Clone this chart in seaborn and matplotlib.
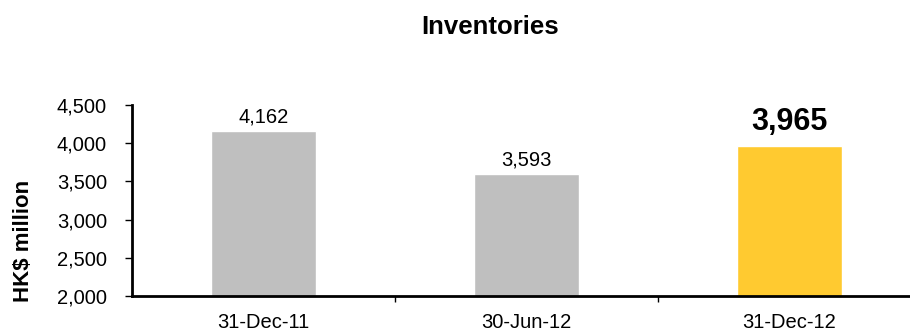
import matplotlib
matplotlib.use("Agg")
import matplotlib.pyplot as plt
import seaborn as sns
from matplotlib.ticker import FuncFormatter, FixedLocator

# data
dates = ["31-Dec-11", "30-Jun-12", "31-Dec-12"]
inventories = [4162, 3593, 3965]
bar_colors = ["#BFBFBF", "#BFBFBF", "#FFCA30"]

sns.set_theme(style="white")
plt.rcParams['font.family'] = ['Liberation Sans', 'DejaVu Sans']
plt.rcParams['text.color'] = 'black'
plt.rcParams['xtick.color'] = 'black'
plt.rcParams['ytick.color'] = 'black'
plt.rcParams['axes.labelcolor'] = 'black'

fig = plt.figure(figsize=(9.10, 3.31), dpi=100)
ax = fig.add_axes([0.145, 0.106, 0.867, 0.577])

sns.barplot(x=dates, y=inventories, hue=dates, palette=bar_colors,
            width=0.4, legend=False, saturation=1, ax=ax)

ax.set_xlim(-0.5, 2.5)
ax.set_ylim(2000, 4500)
ax.set_yticks(range(2000, 4501, 500))
ax.yaxis.set_major_formatter(FuncFormatter(lambda v, p: f"{int(v):,}"))

# value labels, last period highlighted
for i, v in enumerate(inventories):
    last = i == len(inventories) - 1
    ax.text(i, v + (60 if not last else 120), f"{v:,}", ha="center", va="bottom",
            fontsize=22 if last else 14.5, fontweight="bold" if last else "normal")

fig.text(0.538, 0.918, "Inventories", fontsize=18.5, fontweight="bold",
         ha="center", va="center")

ax.set_ylabel("HK$ million", fontsize=16, fontweight="bold")
ax.yaxis.set_label_coords(-0.124, 0.288)
ax.set_xlabel("")

for side in ["top", "right"]:
    ax.spines[side].set_visible(False)
for side in ["left", "bottom"]:
    ax.spines[side].set_color("black")
    ax.spines[side].set_linewidth(2)

ax.tick_params(axis="y", which="major", direction="out", length=5, width=1,
               labelsize=14.5, pad=13, left=True)
ax.tick_params(axis="x", which="major", length=0, labelsize=14.5, pad=12)
ax.xaxis.set_minor_locator(FixedLocator([0.5, 1.5]))
ax.tick_params(axis="x", which="minor", direction="out", length=4, width=1,
               bottom=True)

fig.savefig("out.png", dpi=100)
